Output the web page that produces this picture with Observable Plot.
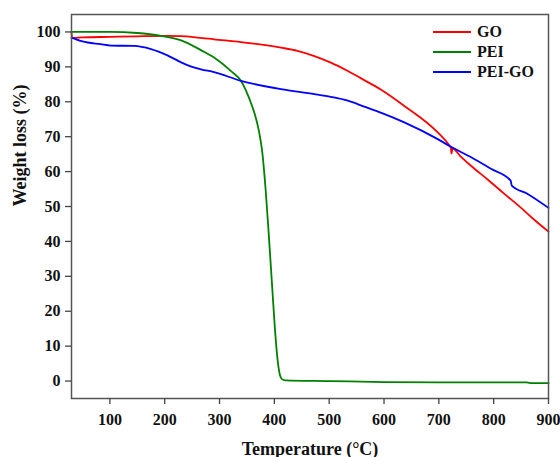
<!DOCTYPE html>
<html>
<head>
<meta charset="utf-8">
<script src="https://cdn.jsdelivr.net/npm/d3@7"></script>
<script src="https://cdn.jsdelivr.net/npm/@observablehq/plot@0.6"></script>
<style>
  body { margin: 0; background: #fff; }
  #wrap { position: relative; width: 560px; height: 457px; font-family: "Liberation Serif", "Times New Roman", serif; }
  .row { position: absolute; left: 433px; height: 20px; display: flex; align-items: center; font-weight: bold; font-size: 16px; color: #111; }
  .sw { width: 38px; height: 0; border-top: 2px solid; margin-right: 6px; }
</style>
</head>
<body>
<div id="wrap"></div>
<script>
// Temperature (°C) and weight (%)
const goT  = [30, 31, 50, 100, 150, 200, 230, 260, 290, 350, 412, 442, 473, 503, 534, 564, 594, 637, 698, 720, 722, 723, 725, 740, 759, 790, 819, 850, 874, 900];
const goW  = [100, 98.3, 98.45, 98.6, 98.75, 98.85, 98.8, 98.4, 97.9, 96.9, 95.5, 94.6, 93.1, 91.2, 88.8, 86.2, 83.5, 78.8, 71.2, 67.3, 66.8, 65.2, 66.6, 64.3, 61.6, 57.6, 53.7, 49.6, 46.2, 42.8];

const peiT = [30, 100, 150, 193, 230, 266, 290, 321, 339, 351, 360, 366, 372, 378, 384, 390, 396, 401, 406, 410, 414, 421, 500, 600, 700, 800, 860, 870, 900];
const peiW = [100, 100, 99.7, 98.9, 97.6, 94.8, 92.7, 88.8, 86.0, 82.2, 78.5, 75.5, 71.5, 65.5, 55.0, 41.5, 27.0, 15.0, 5.9, 1.8, 0.5, 0.2, 0, -0.3, -0.4, -0.4, -0.4, -0.6, -0.6];

const pgoT = [30, 50, 83, 102, 144, 175, 205, 230, 250, 266, 290, 339, 412, 473, 503, 534, 564, 594, 637, 698, 722, 759, 795, 831, 833, 862, 900];
const pgoW = [98.4, 97.3, 96.5, 96.1, 96.0, 95.1, 93.3, 91.3, 90.0, 89.3, 88.5, 86.0, 83.6, 82.2, 81.4, 80.3, 78.6, 76.9, 74.1, 69.3, 67.1, 64.1, 60.8, 57.4, 56.0, 53.6, 49.6];

const seriesNames  = ["GO", "PEI", "PEI-GO"];
const seriesColors = ["#ff0000", "#008000", "#0000ff"];
const xTicks = [100, 200, 300, 400, 500, 600, 700, 800, 900];
const yTicks = [0, 10, 20, 30, 40, 50, 60, 70, 80, 90, 100];
const xLabel = "Temperature (°C)";
const yLabel = "Weight loss (%)";

const toRows = (T, W) => T.map((t, i) => ({t, w: W[i]}));
const series = [toRows(goT, goW), toRows(peiT, peiW), toRows(pgoT, pgoW)];

const chart = Plot.plot({
  width: 560,
  height: 457,
  marginLeft: 71,
  marginRight: 12,
  marginTop: 14,
  marginBottom: 59,
  style: {fontFamily: '"Liberation Serif", "Times New Roman", serif', fontSize: "16px", fontWeight: "bold", color: "#111", background: "#fff"},
  x: {domain: [30, 900]},
  y: {domain: [-5, 105]},
  marks: [
    ...series.map((d, i) => Plot.line(d, {x: "t", y: "w", stroke: seriesColors[i], strokeWidth: 1.8, curve: "monotone-x"})),
    Plot.frame({stroke: "#555", strokeWidth: 1.5}),
    Plot.axisX({ticks: xTicks, tickSize: 6, tickPadding: 9, label: null, stroke: "#444", strokeWidth: 1.3}),
    Plot.axisY({ticks: yTicks, tickSize: 6, tickPadding: 5, label: null, stroke: "#444", strokeWidth: 1.3}),
    Plot.text([yLabel], {text: d => d, frameAnchor: "left", dx: -51, rotate: -90, fontSize: 18, fontWeight: "bold"}),
    Plot.text([xLabel], {text: d => d, frameAnchor: "bottom", dy: 56, fontSize: 18, fontWeight: "bold"})
  ]
});

const wrap = document.getElementById("wrap");
wrap.appendChild(chart);
const rowCenters = [32, 52, 72];
seriesNames.forEach((name, i) => {
  const row = document.createElement("div");
  row.className = "row";
  row.style.top = (rowCenters[i] - 10) + "px";
  const sw = document.createElement("span");
  sw.className = "sw";
  sw.style.borderColor = seriesColors[i];
  const tx = document.createElement("span");
  tx.textContent = name;
  row.appendChild(sw);
  row.appendChild(tx);
  wrap.appendChild(row);
});
</script>
</body>
</html>
